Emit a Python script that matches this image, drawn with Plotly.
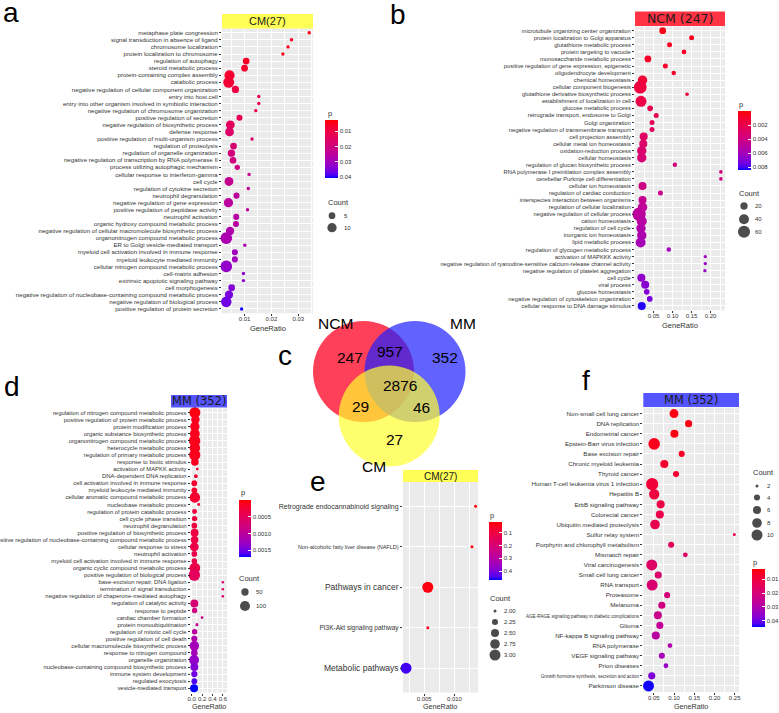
import plotly.graph_objects as go
import math

W, H = 779, 713

# ---------------- Panel a : CM(27) GO ----------------
a_terms = ["metaphase plate congression", "signal transduction in absence of ligand", "chromosome localization",
           "protein localization to chromosome", "regulation of autophagy", "steroid metabolic process",
           "protein-containing complex assembly", "catabolic process",
           "negative regulation of cellular component organization", "entry into host cell",
           "entry into other organism involved in symbiotic interaction",
           "negative regulation of chromosome organization", "positive regulation of secretion",
           "negative regulation of biosynthetic process", "defense response",
           "positive regulation of multi-organism process", "regulation of proteolysis",
           "regulation of organelle organization", "negative regulation of transcription by RNA polymerase II",
           "process utilizing autophagic mechanism", "cellular response to interferon-gamma", "cell cycle",
           "regulation of cytokine secretion", "neutrophil degranulation", "negative regulation of gene expression",
           "positive regulation of peptidase activity", "neutrophil activation",
           "organic hydroxy compound metabolic process",
           "negative regulation of cellular macromolecule biosynthetic process",
           "organonitrogen compound metabolic process", "ER to Golgi vesicle-mediated transport",
           "myeloid cell activation involved in immune response", "myeloid leukocyte mediated immunity",
           "cellular nitrogen compound metabolic process", "cell-matrix adhesion",
           "extrinsic apoptotic signaling pathway", "cell morphogenesis",
           "negative regulation of nucleobase-containing compound metabolic process",
           "negative regulation of biological process", "positive regulation of protein secretion"]
a_ratio = [0.0341, 0.0275, 0.0262, 0.0243, 0.0106, 0.0100, 0.0044, 0.0041, 0.0066, 0.0153,
           0.0153, 0.0142, 0.0081, 0.0047, 0.0044, 0.0128, 0.0059, 0.0051, 0.0057, 0.0073,
           0.0117, 0.0042, 0.0114, 0.0070, 0.0040, 0.0111, 0.0069, 0.0068, 0.0046, 0.0032,
           0.0101, 0.0064, 0.0064, 0.0032, 0.0096, 0.0096, 0.0052, 0.0042, 0.0032, 0.0089]
a_count = [1, 1, 1, 1, 5, 5, 12, 14, 6, 1, 1, 1, 4, 9, 9, 1, 5, 6, 5, 3,
           1, 9, 1, 4, 10, 1, 4, 4, 8, 16, 1, 4, 4, 16, 1, 1, 5, 8, 13, 1]
a_p = [0.004, 0.005, 0.005, 0.005, 0.006, 0.007, 0.007, 0.008, 0.010, 0.011,
       0.011, 0.011, 0.013, 0.014, 0.016, 0.017, 0.018, 0.019, 0.020, 0.021,
       0.022, 0.023, 0.024, 0.025, 0.025, 0.025, 0.026, 0.026, 0.027, 0.028,
       0.029, 0.030, 0.030, 0.032, 0.033, 0.033, 0.034, 0.035, 0.036, 0.040]

# ---------------- Panel b : NCM (247) GO ----------------
b_terms = ["microtubule organizing center organization", "protein localization to Golgi apparatus",
           "glutathione metabolic process", "protein targeting to vacuole", "monosaccharide metabolic process",
           "positive regulation of gene expression, epigenetic", "oligodendrocyte development",
           "chemical homeostasis", "cellular component biogenesis",
           "glutathione derivative biosynthetic process", "establishment of localization in cell",
           "glucose metabolic process", "retrograde transport, endosome to Golgi", "Golgi organization",
           "negative regulation of transmembrane transport", "cell projection assembly",
           "cellular metal ion homeostasis", "oxidation-reduction process", "cellular homeostasis",
           "regulation of glucan biosynthetic process", "RNA polymerase I preinitiation complex assembly",
           "cerebellar Purkinje cell differentiation", "cellular ion homeostasis",
           "regulation of cardiac conduction", "interspecies interaction between organisms",
           "regulation of cellular localization", "negative regulation of cellular process",
           "cation homeostasis", "regulation of cell cycle", "inorganic ion homeostasis",
           "lipid metabolic process", "regulation of glycogen metabolic process",
           "activation of MAPKKK activity",
           "negative regulation of ryanodine-sensitive calcium-release channel activity",
           "negative regulation of platelet aggregation", "cell cycle", "viral process",
           "glucose homeostasis", "negative regulation of cytoskeleton organization",
           "cellular response to DNA damage stimulus"]
b_ratio = [0.074, 0.150, 0.092, 0.130, 0.035, 0.081, 0.103, 0.021, 0.015, 0.138,
           0.017, 0.041, 0.057, 0.046, 0.046, 0.024, 0.023, 0.019, 0.019, 0.106,
           0.227, 0.227, 0.021, 0.068, 0.021, 0.021, 0.012, 0.019, 0.017, 0.019,
           0.016, 0.090, 0.186, 0.186, 0.185, 0.018, 0.028, 0.032, 0.040, 0.019]
b_count = [17, 8, 8, 7, 17, 8, 6, 35, 66, 3, 49, 11, 8, 8, 8, 25, 25, 35, 35, 6,
           3, 3, 25, 8, 25, 35, 73, 40, 35, 35, 40, 6, 2, 2, 2, 25, 25, 11, 11, 25]
b_p = [0.0003, 0.0005, 0.0006, 0.0007, 0.0008, 0.0009, 0.0010, 0.0012, 0.0015, 0.0016,
       0.0018, 0.0020, 0.0022, 0.0024, 0.0026, 0.0028, 0.0030, 0.0032, 0.0034, 0.0036,
       0.0037, 0.0038, 0.0040, 0.0043, 0.0045, 0.0047, 0.0050, 0.0052, 0.0054, 0.0056,
       0.0058, 0.0060, 0.0062, 0.0063, 0.0064, 0.0066, 0.0068, 0.0070, 0.0072, 0.0082]

# ---------------- Panel d : MM (352) GO ----------------
d_terms = ["regulation of nitrogen compound metabolic process", "positive regulation of protein metabolic process",
           "protein modification process", "organic substance biosynthetic process",
           "organonitrogen compound metabolic process", "heterocycle metabolic process",
           "regulation of primary metabolic process", "response to biotic stimulus",
           "activation of MAPKK activity", "DNA-dependent DNA replication",
           "cell activation involved in immune response", "myeloid leukocyte mediated immunity",
           "cellular aromatic compound metabolic process", "nucleobase metabolic process",
           "regulation of protein catabolic process", "cell cycle phase transition", "neutrophil degranulation",
           "positive regulation of biosynthetic process",
           "positive regulation of nucleobase-containing compound metabolic process",
           "cellular response to stress", "neutrophil activation",
           "myeloid cell activation involved in immune response", "organic cyclic compound metabolic process",
           "positive regulation of biological process", "base-excision repair, DNA ligation",
           "termination of signal transduction", "negative regulation of chaperone-mediated autophagy",
           "regulation of catalytic activity", "response to peptide", "cardiac chamber formation",
           "protein monoubiquitination", "regulation of mitotic cell cycle", "positive regulation of cell death",
           "cellular macromolecule biosynthetic process", "response to nitrogen compound",
           "organelle organization", "nucleobase-containing compound biosynthetic process",
           "immune system development", "regulated exocytosis", "vesicle-mediated transport"]
d_ratio = [0.060, 0.070, 0.060, 0.060, 0.055, 0.060, 0.058, 0.060, 0.107, 0.080,
           0.050, 0.050, 0.060, 0.134, 0.055, 0.055, 0.050, 0.055, 0.055, 0.050,
           0.050, 0.050, 0.060, 0.050, 0.600, 0.600, 0.600, 0.050, 0.055, 0.200,
           0.100, 0.055, 0.050, 0.050, 0.050, 0.045, 0.050, 0.050, 0.050, 0.045]
d_count = [120, 70, 85, 95, 130, 110, 125, 55, 3, 10, 30, 30, 110, 4, 20, 25, 28, 60, 55, 75,
           28, 28, 115, 130, 2, 2, 2, 60, 25, 3, 5, 25, 35, 90, 40, 95, 60, 35, 30, 60]
d_p = [0.00005, 0.0001, 0.0001, 0.0001, 0.0001, 0.0001, 0.0001, 0.00012, 0.00015, 0.0002,
       0.0002, 0.0002, 0.0002, 0.00025, 0.0003, 0.0003, 0.0003, 0.00032, 0.00034, 0.00036,
       0.00038, 0.0004, 0.0004, 0.0005, 0.0006, 0.0006, 0.0006, 0.0007, 0.0008, 0.0008,
       0.0009, 0.0010, 0.0011, 0.0012, 0.0012, 0.0013, 0.0014, 0.0015, 0.0016, 0.0017]

# ---------------- Panel e : CM(27) KEGG ----------------
e_terms = ["Retrograde endocannabinoid signaling", "Non-alcoholic fatty liver disease (NAFLD)",
           "Pathways in cancer", "PI3K-Akt signaling pathway", "Metabolic pathways"]
e_ratio = [0.0135, 0.0129, 0.0056, 0.0056, 0.0020]
e_count = [2, 2, 3, 2, 3]
e_p = [0.02, 0.02, 0.03, 0.05, 0.45]
e_font = [7, 5.5, 8.5, 6.5, 8.5]

# ---------------- Panel f : MM (352) KEGG ----------------
f_terms = ["Non-small cell lung cancer", "DNA replication", "Endometrial cancer", "Epstein-Barr virus infection",
           "Base excision repair", "Chronic myeloid leukemia", "Thyroid cancer",
           "Human T-cell leukemia virus 1 infection", "Hepatitis B", "ErbB signaling pathway",
           "Colorectal cancer", "Ubiquitin mediated proteolysis", "Sulfur relay system",
           "Porphyrin and chlorophyll metabolism", "Mismatch repair", "Viral carcinogenesis",
           "Small cell lung cancer", "RNA transport", "Proteasome", "Melanoma",
           "AGE-RAGE signaling pathway in diabetic complications", "Glioma", "NF-kappa B signaling pathway",
           "RNA polymerase", "VEGF signaling pathway", "Prion diseases",
           "Growth hormone synthesis, secretion and action", "Parkinson disease"]
f_ratio = [0.100, 0.136, 0.101, 0.051, 0.119, 0.076, 0.105, 0.046, 0.051, 0.067,
           0.065, 0.053, 0.249, 0.093, 0.128, 0.045, 0.061, 0.046, 0.083, 0.070,
           0.060, 0.065, 0.055, 0.090, 0.070, 0.080, 0.045, 0.037]
f_count = [7, 5, 6, 11, 4, 6, 4, 12, 9, 6, 6, 8, 2, 4, 3, 10, 5, 10, 4, 5, 6, 5, 6, 3, 4, 3, 5, 10]
f_p = [0.004, 0.004, 0.004, 0.005, 0.006, 0.007, 0.008, 0.009, 0.010, 0.011,
       0.012, 0.013, 0.014, 0.015, 0.016, 0.017, 0.018, 0.019, 0.020, 0.022,
       0.024, 0.026, 0.028, 0.030, 0.032, 0.034, 0.038, 0.044]
f_font = [6.2] * 28
f_font[20] = 4.6
f_font[26] = 4.6

# ---------------- Panel c : Venn ----------------
venn_sets = ["NCM", "MM", "CM"]
venn_colors = ["#FF1030", "#2020FF", "#FFFF30"]
venn_counts = {"NCM": 247, "MM": 352, "CM": 27, "NCM&MM": 957, "NCM&CM": 29, "MM&CM": 46, "all": 2876}

# ======================================================================
def pxx(x):
    return x / W


def pxy(y):
    return 1 - y / H


def srgb2lin(c):
    c = c / 255.0
    return c / 12.92 if c <= 0.04045 else ((c + 0.055) / 1.055) ** 2.4


def lin2srgb(c):
    c = max(0.0, min(1.0, c))
    v = 12.92 * c if c <= 0.0031308 else 1.055 * c ** (1 / 2.4) - 0.055
    return int(round(v * 255))


def rgb2lab(rgb):
    r, g, b = [srgb2lin(v) for v in rgb]
    X = (0.4124 * r + 0.3576 * g + 0.1805 * b) / 0.95047
    Y = (0.2126 * r + 0.7152 * g + 0.0722 * b)
    Z = (0.0193 * r + 0.1192 * g + 0.9505 * b) / 1.08883

    def f(t):
        return t ** (1 / 3) if t > 0.008856 else 7.787 * t + 16 / 116
    return 116 * f(Y) - 16, 500 * (f(X) - f(Y)), 200 * (f(Y) - f(Z))


def lab2rgb(L, a, b):
    fy = (L + 16) / 116
    fx = fy + a / 500
    fz = fy - b / 200

    def fi(t):
        return t ** 3 if t ** 3 > 0.008856 else (t - 16 / 116) / 7.787
    X, Y, Z = fi(fx) * 0.95047, fi(fy), fi(fz) * 1.08883
    r = 3.2406 * X - 1.5372 * Y - 0.4986 * Z
    g = -0.9689 * X + 1.8758 * Y + 0.0415 * Z
    bb = 0.0557 * X - 0.2040 * Y + 1.0570 * Z
    return lin2srgb(r), lin2srgb(g), lin2srgb(bb)


lab_blue = rgb2lab((0, 0, 255))
lab_red = rgb2lab((255, 0, 0))
cscale = []
for i in range(21):
    t = i / 20
    L = lab_blue[0] + (lab_red[0] - lab_blue[0]) * t
    A = lab_blue[1] + (lab_red[1] - lab_blue[1]) * t
    B = lab_blue[2] + (lab_red[2] - lab_blue[2]) * t
    r, g, b = lab2rgb(L, A, B)
    cscale.append([t, "rgb(%d,%d,%d)" % (r, g, b)])

FONT = "Liberation Sans, Arial, sans-serif"
TXT = "#333333"

fig = go.Figure()
layout = {}
shapes = []
annos = []


def axn(idx):
    return "" if idx == 1 else str(idx)


def size_fn(counts, d0sq, k, cmin=0):
    return [math.sqrt(max(d0sq + k * (c - cmin), 1)) for c in counts]


def add_panel(idx, terms, ratio, count, p, xr, xticks, xtick_text, minor_dtick, box, sizes,
              prange, ptick, ptext, cbox, ytickfont=6.0, ticktext=None):
    x0, x1, y0, y1 = box
    n = axn(idx)
    fig.add_trace(go.Scatter(
        x=ratio, y=terms, mode="markers", xaxis="x" + n, yaxis="y" + n,
        marker=dict(size=sizes, color=[-v for v in p], cmin=-prange[1], cmax=-prange[0],
                    colorscale=cscale, line=dict(width=0), opacity=1,
                    showscale=True,
                    colorbar=dict(x=pxx(cbox[0]), xanchor="left", y=pxy((cbox[2] + cbox[3]) / 2),
                                  yanchor="middle", len=cbox[3] - cbox[2], lenmode="pixels",
                                  thickness=cbox[1] - cbox[0], thicknessmode="pixels",
                                  xpad=0, ypad=0, outlinewidth=0,
                                  tickmode="array", tickvals=[-v for v in ptick], ticktext=ptext,
                                  ticks="inside", tickcolor="white", ticklen=3,
                                  tickfont=dict(size=6, family=FONT, color=TXT))),
        showlegend=False, hoverinfo="skip", cliponaxis=False))
    layout["xaxis" + n] = dict(domain=[pxx(x0), pxx(x1)], range=xr, anchor="y" + n,
                               tickmode="array", tickvals=xticks, ticktext=xtick_text,
                               showgrid=True, gridcolor="white", gridwidth=1.1, zeroline=False,
                               ticks="outside", ticklen=2, tickcolor="#333333", tickwidth=0.6,
                               ticklabelstandoff=-2, automargin=False, tickangle=0,
                               tickfont=dict(size=6, family=FONT, color=TXT), showline=False,
                               minor=dict(showgrid=True, gridcolor="white", gridwidth=0.5,
                                          dtick=minor_dtick, tick0=xticks[0] - minor_dtick))
    ta = dict(domain=[pxy(y1), pxy(y0)], type="category", categoryorder="array",
              categoryarray=list(reversed(terms)), range=[-0.6, len(terms) - 0.4],
              anchor="x" + n, showgrid=True, gridcolor="white", gridwidth=1.1, automargin=False,
              ticks="outside", ticklen=2, tickcolor="#333333", tickwidth=0.6,
              tickfont=dict(size=ytickfont, family=FONT, color=TXT), zeroline=False)
    if ticktext is not None:
        ta.update(tickmode="array", tickvals=terms, ticktext=ticktext)
    layout["yaxis" + n] = ta
    shapes.append(dict(type="rect", xref="x%s domain" % n, yref="y%s domain" % n,
                       x0=0, x1=1, y0=0, y1=1, fillcolor="#EBEBEB", line=dict(width=0), layer="below"))


def strip(x0, x1, y0, y1, color, text, fsize, family):
    shapes.append(dict(type="rect", xref="paper", yref="paper", x0=pxx(x0), x1=pxx(x1),
                       y0=pxy(y1), y1=pxy(y0), fillcolor=color, line=dict(width=0), layer="above"))
    annos.append(dict(x=pxx((x0 + x1) / 2), y=pxy((y0 + y1) / 2), xref="paper", yref="paper",
                      text=text, showarrow=False, font=dict(size=fsize, family=family, color="#1A1A1A"),
                      xanchor="center", yanchor="middle", borderpad=0))


def text(x, y, s, size, anchor="left", color=TXT, family=FONT):
    annos.append(dict(x=pxx(x), y=pxy(y), xref="paper", yref="paper", text=s, showarrow=False,
                      font=dict(size=size, family=family, color=color), xanchor=anchor, yanchor="middle",
                      borderpad=0))


def size_legend(idx, box, vals, sizes, ys, labx, title_xy):
    x0, x1, y0, y1 = box
    n = axn(idx)
    layout["xaxis" + n] = dict(domain=[pxx(x0), pxx(x1)], range=[0, 1], visible=False,
                               anchor="y" + n, fixedrange=True)
    layout["yaxis" + n] = dict(domain=[pxy(y1), pxy(y0)], range=[y1, y0], visible=False,
                               anchor="x" + n, fixedrange=True)
    fig.add_trace(go.Scatter(x=[0.5] * len(vals), y=ys, mode="markers", xaxis="x" + n,
                             yaxis="y" + n, marker=dict(size=sizes, color="black", line=dict(width=0)),
                             showlegend=False, hoverinfo="skip", cliponaxis=False))
    for v, yy in zip(vals, ys):
        text(labx, yy, v, 6)
    text(title_xy[0], title_xy[1], "Count", 7.5)


# ---- panel a
sa = size_fn(a_count, 3.4, 8.3)
add_panel(1, a_terms, a_ratio, a_count, a_p, [0.0016, 0.0355], [0.01, 0.02, 0.03], ["0.01", "0.02", "0.03"],
          0.005, (222, 313, 28.5, 313.2), sa, (0.0027, 0.0405), [0.01, 0.02, 0.03, 0.04],
          ["0.01", "0.02", "0.03", "0.04"], (325, 338, 120, 178), ytickfont=6.1)
strip(222, 313, 14, 28.5, "#FFFF55", "CM(27)", 11, FONT)
text(267.5, 328, "GeneRatio", 7.5, "center")
text(327, 113, "p", 7.5)
size_legend(6, (326, 338, 208, 235), ["5", "10"], size_fn([5, 10], 3.4, 8.3), [215.7, 227.7], 343, (327, 202))

# ---- panel b
sb = size_fn(b_count, 6.3, 2.33)
add_panel(2, b_terms, b_ratio, b_count, b_p, [0.0012, 0.2378], [0.05, 0.10, 0.15, 0.20],
          ["0.05", "0.10", "0.15", "0.20"], 0.025, (635, 725, 26.5, 310.2), sb, (0.0, 0.0084),
          [0.002, 0.004, 0.006, 0.008], ["0.002", "0.004", "0.006", "0.008"], (738, 751, 111, 170),
          ytickfont=5.8)
strip(635, 725, 11.5, 26, "#FF3344", "NCM (247)", 12.5, "DejaVu Sans")
text(680, 325, "GeneRatio", 7.5, "center")
text(738, 104, "p", 7.5)
size_legend(7, (737, 751, 198, 240), ["20", "40", "60"], size_fn([20, 40, 60], 6.3, 2.33),
            [206, 219.3, 231.7], 754, (738, 193))

# ---- panel d
sd = size_fn(d_count, 5.0, 0.97)
add_panel(3, d_terms, d_ratio, d_count, d_p, [-0.02, 0.68], [0.0, 0.2, 0.4, 0.6], ["0.0", "0.2", "0.4", "0.6"],
          0.1, (190.7, 227, 408.3, 692.5), sd, (0.0, 0.0017), [0.0005, 0.0010, 0.0015],
          ["0.0005", "0.0010", "0.0015"], (239, 251, 500, 557), ytickfont=5.9)
strip(171, 227, 395, 407.5, "#5555FF", "MM (352)", 11.5, "DejaVu Sans")
text(209, 706.5, "GeneRatio", 7.2, "center")
text(240, 492, "p", 7.5)
size_legend(8, (238, 252, 585, 613), ["50", "100"], size_fn([50, 100], 5.0, 0.97), [592, 606], 255, (238, 578))

# ---- panel e
se = size_fn(e_count, 9, 112, 2)
e_tt = ['<span style="font-size:%gpx">%s</span>' % (fs, t) for fs, t in zip(e_font, e_terms)]
add_panel(4, e_terms, e_ratio, e_count, e_p, [0.0015, 0.0139], [0.005, 0.010], ["0.005", "0.010"],
          0.0025, (403, 478, 482, 692.5), se, (0.015, 0.47), [0.1, 0.2, 0.3, 0.4],
          ["0.1", "0.2", "0.3", "0.4"], (489, 502, 522, 580), ytickfont=7, ticktext=e_tt)
strip(403, 478, 470, 482, "#FFFF55", "CM(27)", 10, FONT)
text(440, 706.5, "GeneRatio", 7.2, "center")
text(489, 515, "p", 7.5)
ev = [2.0, 2.25, 2.5, 2.75, 3.0]
size_legend(9, (488, 502, 605, 660), ["2.00", "2.25", "2.50", "2.75", "3.00"], size_fn(ev, 9, 112, 2),
            [611, 622, 633, 644, 655], 503, (489, 598))

# ---- panel f
sf = size_fn(f_count, 9, 14, 2)
f_tt = ['<span style="font-size:%gpx">%s</span>' % (fs, t) for fs, t in zip(f_font, f_terms)]
add_panel(5, f_terms, f_ratio, f_count, f_p, [0.0241, 0.2606], [0.05, 0.10, 0.15, 0.20, 0.25],
          ["0.05", "0.10", "0.15", "0.20", "0.25"], 0.025, (643.3, 739, 407.5, 692), sf, (0.0025, 0.0445),
          [0.01, 0.02, 0.03, 0.04], ["0.01", "0.02", "0.03", "0.04"], (752, 765, 569, 627),
          ytickfont=6.2, ticktext=f_tt)
strip(643.3, 739, 393, 407, "#5555FF", "MM (352)", 11.5, "DejaVu Sans")
text(691, 706.5, "GeneRatio", 7.2, "center")
text(752, 562, "p", 7.5)
fv = [2, 4, 6, 8, 10]
size_legend(10, (750, 764, 480, 542), ["2", "4", "6", "8", "10"], size_fn(fv, 9, 14, 2),
            [486, 497.5, 510, 523, 535], 766, (752, 472))

# ---- Venn (panel c)
R = 50.5
centers = [(363.5, 371.5), (415, 371.5), (389.2, 416)]
alphas = [0.8, 0.7, 0.7]
for (cx, cy), col, al in zip(centers, venn_colors, alphas):
    shapes.append(dict(type="circle", xref="paper", yref="paper", x0=pxx(cx - R), x1=pxx(cx + R),
                       y0=pxy(cy + R), y1=pxy(cy - R), fillcolor=col, opacity=al,
                       line=dict(width=0), layer="above"))
vfont = "Liberation Sans, Arial, sans-serif"
text(335, 323.5, venn_sets[0], 15.5, "center", "black", vfont)
text(463, 323.5, venn_sets[1], 15.5, "center", "black", vfont)
text(374, 466, venn_sets[2], 15.5, "center", "black", vfont)
text(350, 357.7, str(venn_counts["NCM"]), 15.5, "center", "black", vfont)
text(390, 351.7, str(venn_counts["NCM&MM"]), 15.5, "center", "black", vfont)
text(445, 357.7, str(venn_counts["MM"]), 15.5, "center", "black", vfont)
text(400, 385, str(venn_counts["all"]), 15.5, "center", "black", vfont)
text(360, 406, str(venn_counts["NCM&CM"]), 15.5, "center", "black", vfont)
text(421.7, 407.3, str(venn_counts["MM&CM"]), 15.5, "center", "black", vfont)
text(394.3, 439.3, str(venn_counts["CM"]), 15.5, "center", "black", vfont)

# ---- panel letters
for s, x, y in [("a", 11, 12), ("b", 398, 15), ("c", 285, 355), ("d", 12, 387), ("e", 318, 481), ("f", 586, 380)]:
    text(x, y, s, 28, "center", "black", vfont)

fig.update_layout(**layout)
fig.update_layout(width=W, height=H, margin=dict(l=0, r=0, t=0, b=0, autoexpand=False), paper_bgcolor="white",
                  plot_bgcolor="white", shapes=shapes, annotations=annos, showlegend=False,
                  font=dict(family=FONT))
fig.write_html("out.html", config={"displayModeBar": False},
               post_script="document.body.style.margin='0px';document.body.style.padding='0px';")
